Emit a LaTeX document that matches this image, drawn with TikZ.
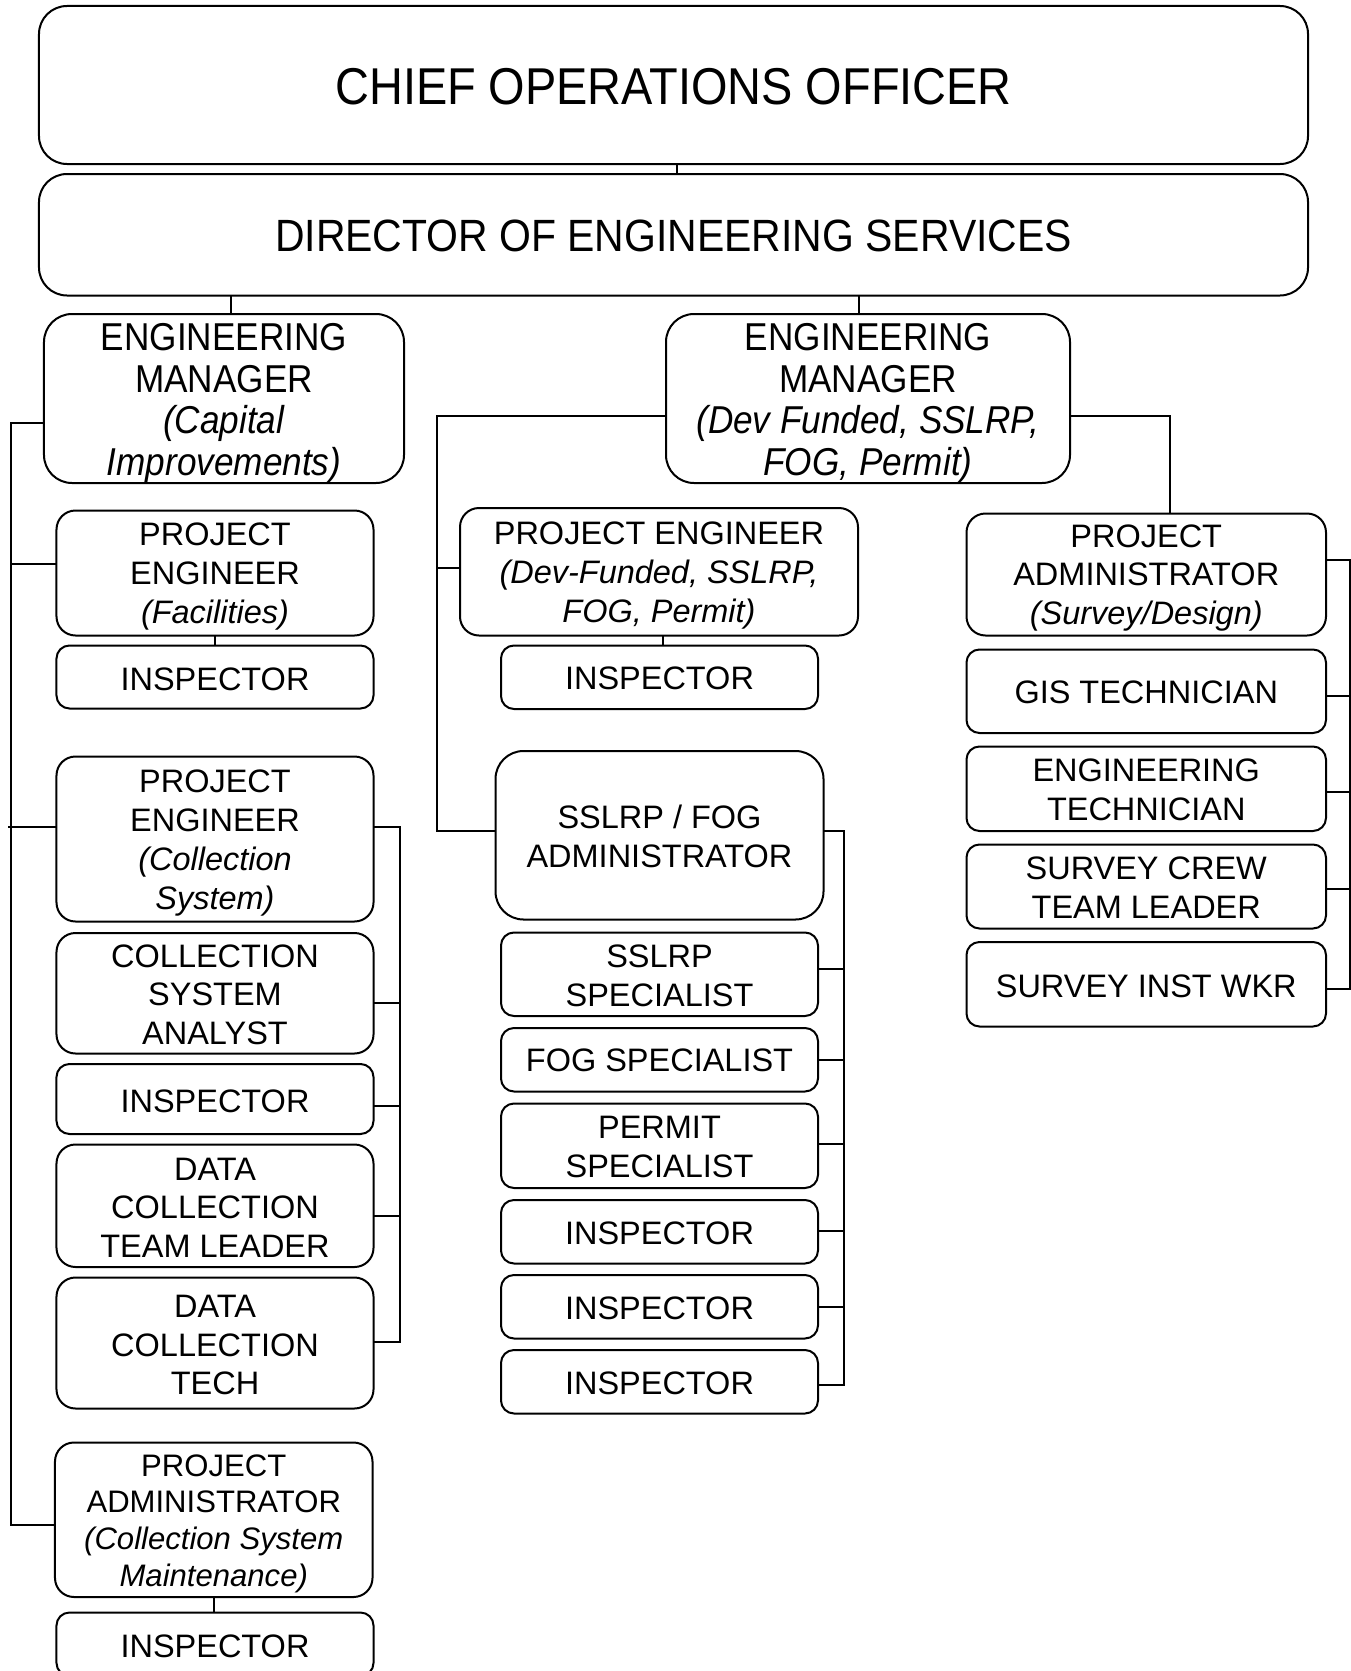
\documentclass[tikz,border=0pt]{standalone}
\usepackage{fontspec}
\setmainfont{Liberation Sans}
\newfontfamily\narrowsans[FakeStretch=0.905]{Liberation Sans}

% A box given by its top-left and bottom-right corners (y grows downwards);
% the optional argument lowers the text inside the box.
\newcommand\orgnode[8][1.5]{%
  \pgfmathsetmacro\orgW{#6-#4}%
  \pgfmathsetmacro\orgH{#7-#5}%
  \node[#3, minimum width=\orgW bp, minimum height=\orgH bp] (#2) at ({(#4+#6)/2},{(#5+#7)/2}) {};
  \node[#3, orgtext, yshift=-#1bp] (#2-label) at (#2.center) {#8};}

\tikzset{
  orgbox/.style={draw, line width=2bp, fill=white, inner sep=0pt, outer sep=0pt, align=center, text=black},
  orgtext/.style={draw=none, fill=none, inner sep=0pt, minimum width=0pt, minimum height=0pt},
  bigbox/.style={orgbox, rounded corners=28bp},
  midbox/.style={orgbox, rounded corners=19bp},
  smallbox/.style={orgbox, rounded corners=13bp},
  conn/.style={line width=2bp},
  ceofont/.style={font=\narrowsans\fontsize{52}{60}\selectfont},
  dirfont/.style={font=\narrowsans\fontsize{45.4}{52}\selectfont},
  emfont/.style={font=\narrowsans\fontsize{39}{42}\selectfont},
  stdfont/.style={font=\fontsize{32.6}{39}\selectfont},
  smfont/.style={font=\fontsize{31.2}{37}\selectfont},
}

\begin{document}
\begin{tikzpicture}[x=1bp, y=-1bp]
\fill[white] (0,0) rectangle (1351,1671);
\clip (0,0) rectangle (1351,1671);
\useasboundingbox (0,0) rectangle (1351,1671);

% bus positions
\coordinate (busL) at (11,0);
\coordinate (busLC) at (399.5,0);
\coordinate (busM) at (437,0);
\coordinate (busMA) at (844,0);
\coordinate (busR) at (1349.5,0);
\coordinate (dropR) at (1170,0);
\coordinate (stub) at (8,827);

% top levels
\orgnode[2]{ceo}{bigbox, ceofont}{39}{6}{1308}{164}{CHIEF OPERATIONS OFFICER}
\orgnode[1.5]{dir}{bigbox, dirfont}{39}{174}{1308}{295.5}{DIRECTOR OF ENGINEERING SERVICES}
\orgnode[5]{emL}{bigbox, emfont}{44}{314}{404}{483}{ENGINEERING\\MANAGER\\\textit{(Capital}\\\textit{Improvements)}}
\orgnode[5]{emR}{bigbox, emfont}{666}{314}{1070}{483}{ENGINEERING\\MANAGER\\\textit{(Dev Funded, SSLRP,}\\\textit{FOG, Permit)}}

% left column
\orgnode[3.5]{pefac}{midbox, stdfont}{56.5}{510.5}{373.5}{635.5}{PROJECT\\ENGINEER\\\textit{(Facilities)}}
\orgnode[2]{insp1}{smallbox, stdfont}{56.5}{645.5}{373.5}{708.5}{INSPECTOR}
\orgnode[4]{pecoll}{midbox, stdfont}{56.5}{756.5}{373.5}{921.5}{PROJECT\\ENGINEER\\\textit{(Collection}\\\textit{System)}}
\orgnode[1.5]{csa}{midbox, stdfont}{56.5}{933}{373.5}{1053.5}{COLLECTION\\SYSTEM\\ANALYST}
\orgnode[2]{insp2}{smallbox, stdfont}{56.5}{1064}{373.5}{1134}{INSPECTOR}
\orgnode[2]{dctl}{midbox, stdfont}{56.5}{1144.5}{373.5}{1267}{DATA\\COLLECTION\\TEAM LEADER}
\orgnode[2]{dct}{midbox, stdfont}{56.5}{1277.5}{373.5}{1408.5}{DATA\\COLLECTION\\TECH}
\orgnode[4]{pacsm}{midbox, smfont}{55}{1442.5}{372.5}{1597}{PROJECT\\ADMINISTRATOR\\\textit{(Collection System}\\\textit{Maintenance)}}
\orgnode[2]{insp3}{smallbox, stdfont}{56.5}{1612.5}{373.5}{1676}{INSPECTOR}

% middle column
\orgnode[3.5]{pedev}{midbox, stdfont}{460}{508}{858}{635.5}{PROJECT ENGINEER\\\textit{(Dev-Funded, SSLRP,}\\\textit{FOG, Permit)}}
\orgnode[1.5]{insp4}{smallbox, stdfont}{501}{645.5}{818}{709}{INSPECTOR}
\orgnode[1]{admin}{bigbox, stdfont}{495.5}{751}{823.5}{919.5}{SSLRP / FOG\\ADMINISTRATOR}
\orgnode[1.5]{sslrp}{smallbox, stdfont}{501}{932.5}{818}{1016}{SSLRP\\SPECIALIST}
\orgnode[1]{fogs}{smallbox, stdfont}{501}{1028}{818}{1091.5}{FOG SPECIALIST}
\orgnode[1]{permit}{smallbox, stdfont}{501}{1103.5}{818}{1188}{PERMIT\\SPECIALIST}
\orgnode[1.5]{insp5}{smallbox, stdfont}{501}{1200}{818}{1263.5}{INSPECTOR}
\orgnode[1.5]{insp6}{smallbox, stdfont}{501}{1275}{818}{1338.5}{INSPECTOR}
\orgnode[1.5]{insp7}{smallbox, stdfont}{501}{1350}{818}{1413.5}{INSPECTOR}

% right column
\orgnode[3.5]{pasurv}{midbox, stdfont}{966.5}{513.5}{1326}{635.5}{PROJECT\\ADMINISTRATOR\\\textit{(Survey/Design)}}
\orgnode[1]{gis}{smallbox, stdfont}{966.5}{649.5}{1326}{733}{GIS TECHNICIAN}
\orgnode[1]{engt}{smallbox, stdfont}{966.5}{746.5}{1326}{831}{ENGINEERING\\TECHNICIAN}
\orgnode[1]{sctl}{smallbox, stdfont}{966.5}{844.5}{1326}{928.5}{SURVEY CREW\\TEAM LEADER}
\orgnode[2]{siw}{smallbox, stdfont}{966.5}{942}{1326}{1026.5}{SURVEY INST WKR}

% connectors between levels
\draw[conn] (ceo.south -| 677,0) -- (dir.north -| 677,0);
\draw[conn] (dir.south -| 231,0) -- (emL.north -| 231,0);
\draw[conn] (dir.south -| 859,0) -- (emR.north -| 859,0);

% left trunk
\draw[conn] (emL.west |- 0,423) -- (busL |- 0,423) -- (busL |- 0,1525) -- (pacsm.west |- 0,1525);
\draw[conn] (pefac.west |- 0,564) -- (busL |- 0,564);
\draw[conn] (pecoll.west |- 0,827) -- (stub);
\draw[conn] (pefac.south -| 215,0) -- (insp1.north -| 215,0);
\draw[conn] (pacsm.south -| 214,0) -- (insp3.north -| 214,0);

% collection system group
\draw[conn] (pecoll.east |- 0,827) -- (busLC |- 0,827) -- (busLC |- 0,1342) -- (dct.east |- 0,1342);
\draw[conn] (csa.east |- 0,1002.5) -- (busLC |- 0,1002.5);
\draw[conn] (insp2.east |- 0,1105.5) -- (busLC |- 0,1105.5);
\draw[conn] (dctl.east |- 0,1215.5) -- (busLC |- 0,1215.5);

% middle trunk
\draw[conn] (emR.west |- 0,416) -- (busM |- 0,416) -- (busM |- 0,831) -- (admin.west |- 0,831);
\draw[conn] (pedev.west |- 0,568) -- (busM |- 0,568);
\draw[conn] (pedev.south -| 663,0) -- (insp4.north -| 663,0);

% SSLRP / FOG group
\draw[conn] (admin.east |- 0,831) -- (busMA |- 0,831) -- (busMA |- 0,1385) -- (insp7.east |- 0,1385);
\draw[conn] (sslrp.east |- 0,968.5) -- (busMA |- 0,968.5);
\draw[conn] (fogs.east |- 0,1060) -- (busMA |- 0,1060);
\draw[conn] (permit.east |- 0,1144) -- (busMA |- 0,1144);
\draw[conn] (insp5.east |- 0,1231) -- (busMA |- 0,1231);
\draw[conn] (insp6.east |- 0,1307) -- (busMA |- 0,1307);

% survey / design group
\draw[conn] (emR.east |- 0,416) -- (dropR |- 0,416) -- (dropR |- pasurv.north);
\draw[conn] (pasurv.east |- 0,560) -- (busR |- 0,560) -- (busR |- 0,989) -- (siw.east |- 0,989);
\draw[conn] (gis.east |- 0,696) -- (busR |- 0,696);
\draw[conn] (engt.east |- 0,791.5) -- (busR |- 0,791.5);
\draw[conn] (sctl.east |- 0,888.5) -- (busR |- 0,888.5);
\end{tikzpicture}
\end{document}
